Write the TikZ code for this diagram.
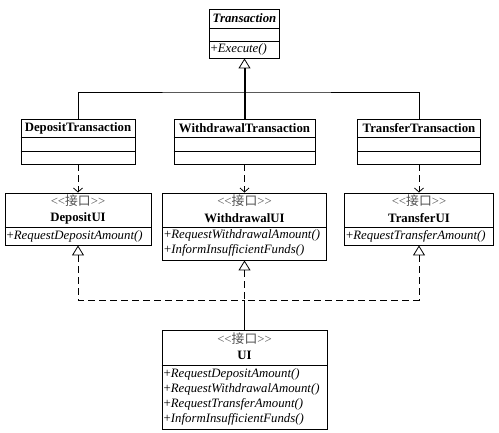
\documentclass[tikz,border=0pt]{standalone}
\usepackage{fontspec}
\setmainfont{Liberation Serif}
\newfontfamily\cjkfont{Noto Sans CJK SC}
\usetikzlibrary{arrows.meta}
\newcommand\hsep[2]{\draw[sepline] (#1.west |- 0,#2) -- (#1.east |- 0,#2);}
\newcommand\stereo{{<}{<}{\cjkfont 接口}{>}{>}}
\begin{document}
\begin{tikzpicture}[x=1pt,y=-1pt,
  font=\fontsize{12.8}{15}\selectfont,
  box/.style={draw, line width=0.9pt, fill=white, inner sep=0pt},
  sepline/.style={line width=0.9pt},
  ttl/.style={inner sep=0pt, font=\fontsize{12.8}{15}\selectfont\bfseries},
  ster/.style={inner sep=0pt, text=black!68, font=\fontsize{12.8}{15}\selectfont},
  meth/.style={inner sep=0pt, anchor=west, font=\fontsize{12.8}{15}\selectfont},
  gen/.style={line width=0.9pt},
  trunk/.style={line width=2pt},
  dep/.style={line width=0.9pt, dash pattern=on 7pt off 4pt, -{Straight Barb[length=4pt,width=9pt,line width=0.8pt]}},
  real/.style={line width=0.9pt, dash pattern=on 7pt off 4pt},
  opentri/.tip={Triangle[open,length=10pt,width=12pt,line width=0.8pt]}
]
\fill[white] (0,0) rectangle (499,433);
\useasboundingbox (0,0) rectangle (499,433);

% Transaction
\node[box, minimum width=70, minimum height=49] (tr) at (244.5,33.5) {};
\hsep{tr}{28}\hsep{tr}{41}
\node[ttl] (trt) at (244.5,18.5) {\itshape Transaction};
\node[meth] (trm) at (210.5,49.5) {+\textit{Execute()}};

% Transaction subclasses
\node[box, minimum width=114, minimum height=45] (dt) at (78,141.5) {};
\hsep{dt}{137}\hsep{dt}{151}
\node[ttl] (dtt) at (78,128) {DepositTransaction};

\node[box, minimum width=141, minimum height=45] (wt) at (244.5,141.5) {};
\hsep{wt}{137}\hsep{wt}{151}
\node[ttl] (wtt) at (244.5,128) {WithdrawalTransaction};

\node[box, minimum width=123, minimum height=45] (tt) at (419,141.5) {};
\hsep{tt}{137}\hsep{tt}{151}
\node[ttl] (ttt) at (419,128) {TransferTransaction};

% Interfaces
\node[box, minimum width=146, minimum height=52] (du) at (78,219) {};
\hsep{du}{227}
\node[ster] (dus) at (78,201) {\stereo};
\node[ttl] (dun) at (78,218) {DepositUI};
\node[meth] (dum) at (6.5,236) {+\textit{RequestDepositAmount()}};

\node[box, minimum width=164, minimum height=67] (wu) at (244.5,226.5) {};
\hsep{wu}{227}
\node[ster] (wus) at (244.5,201) {\stereo};
\node[ttl] (wun) at (244.5,218) {WithdrawalUI};
\node[meth] (wum1) at (164,235.5) {+\textit{RequestWithdrawalAmount()}};
\node[meth] (wum2) at (164,250.5) {+\textit{InformInsufficientFunds()}};

\node[box, minimum width=149, minimum height=52] (tu) at (419,219) {};
\hsep{tu}{227}
\node[ster] (tus) at (419,201) {\stereo};
\node[ttl] (tun) at (419,218) {TransferUI};
\node[meth] (tum) at (346,236) {+\textit{RequestTransferAmount()}};

% UI
\node[box, minimum width=165, minimum height=99] (ui) at (244.5,379.5) {};
\hsep{ui}{365}
\node[ster] (uis) at (244.5,338.5) {\stereo};
\node[ttl] (uin) at (244.5,355) {UI};
\node[meth] (uim1) at (163.5,374) {+\textit{RequestDepositAmount()}};
\node[meth] (uim2) at (163.5,389) {+\textit{RequestWithdrawalAmount()}};
\node[meth] (uim3) at (163.5,404) {+\textit{RequestTransferAmount()}};
\node[meth] (uim4) at (163.5,419) {+\textit{InformInsufficientFunds()}};

% generalization
\coordinate (j1) at (244.5,92);
\draw[gen] (dt.north) |- (j1) -| (tt.north);
\draw[trunk, -opentri] (wt.north) -- (tr.south);

% dependencies
\draw[dep] (dt.south) -- (du.north);
\draw[dep] (wt.south) -- (wu.north);
\draw[dep] (tt.south) -- (tu.north);

% realization
\coordinate (j2) at (244.5,300);
\draw[real, opentri-] (du.south) |- (j2) -- (ui.north);
\draw[real, opentri-] (tu.south) |- (j2) -- (ui.north);
\draw[real, opentri-] (wu.south) -- (ui.north);
\end{tikzpicture}
\end{document}
